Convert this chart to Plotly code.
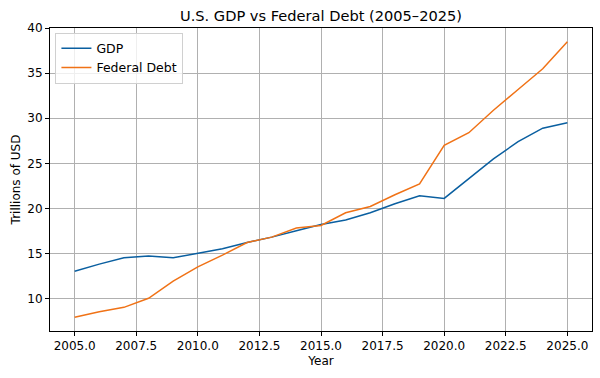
import plotly.graph_objects as go

years = list(range(2005, 2026))
gdp = [13.0, 13.8, 14.5, 14.7, 14.5, 15.0, 15.5, 16.2, 16.8, 17.5, 18.2,
       18.7, 19.5, 20.5, 21.4, 21.1, 23.3, 25.5, 27.4, 28.9, 29.5]
debt = [7.9, 8.5, 9.0, 10.0, 11.9, 13.5, 14.8, 16.2, 16.8, 17.8, 18.1,
        19.5, 20.2, 21.5, 22.7, 27.0, 28.4, 30.9, 33.2, 35.5, 38.5]

BLUE = "#0a5fa0"
ORANGE = "#f07216"
FONT = "DejaVu Sans"

ymin = min(gdp + debt)
ymax = max(gdp + debt)
pad = 0.05 * (ymax - ymin)
xpad = 0.05 * (years[-1] - years[0])

fig = go.Figure()
fig.add_trace(go.Scatter(x=years, y=gdp, mode="lines", name="GDP",
                         line=dict(color=BLUE, width=1.5)))
fig.add_trace(go.Scatter(x=years, y=debt, mode="lines", name="Federal Debt",
                         line=dict(color=ORANGE, width=1.5)))

axis_common = dict(
    showgrid=True, gridcolor="#b0b0b0", gridwidth=0.8,
    showline=True, linecolor="black", linewidth=1, mirror=True,
    ticks="outside", ticklen=4, tickcolor="black", tickwidth=1,
    zeroline=False, tickfont=dict(family=FONT, size=12, color="black"),
)

fig.update_layout(
    width=600, height=378,
    margin=dict(l=50, r=8, t=28, b=47),
    paper_bgcolor="white", plot_bgcolor="white",
    font=dict(family=FONT, color="black"),
    title=dict(text="U.S. GDP vs Federal Debt (2005–2025)", x=0.535, xanchor="center",
               y=1 - 16 / 378, yanchor="middle",
               font=dict(family=FONT, size=14.6, color="black")),
    xaxis=dict(axis_common, range=[years[0] - xpad, years[-1] + xpad],
               tick0=2005, dtick=2.5, tickformat=".1f",
               title=dict(text="Year", font=dict(family=FONT, size=12), standoff=4)),
    yaxis=dict(axis_common, range=[ymin - pad, ymax + pad], tick0=10, dtick=5,
               title=dict(text="Trillions of USD", font=dict(family=FONT, size=12), standoff=4)),
    legend=dict(x=0.01, y=0.985, xanchor="left", yanchor="top",
                bgcolor="rgba(255,255,255,0.8)", bordercolor="#d0d0d0", borderwidth=1,
                font=dict(family=FONT, size=12.5, color="black"),
                tracegroupgap=0, itemwidth=30),
    showlegend=True,
)

fig.write_html("out.html")
